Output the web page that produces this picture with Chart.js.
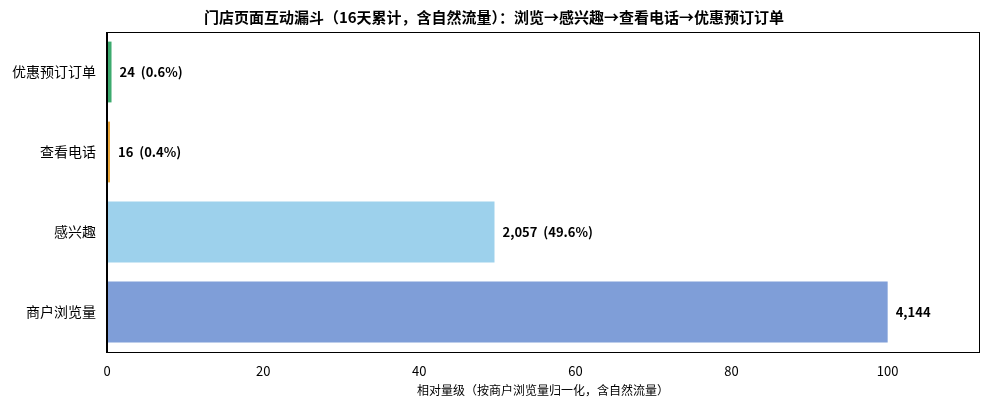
<!DOCTYPE html>
<html><head><meta charset="utf-8">
<script src="https://cdn.jsdelivr.net/npm/chart.js@4"></script>
<style>html,body{margin:0;padding:0;background:#fff}#w{width:990px;height:410px}</style>
</head><body><div id="w"><canvas id="c"></canvas></div>
<script>
const categories = ['优惠预订订单','查看电话','感兴趣','商户浏览量'];
const counts = [24, 16, 2057, 4144];
const pctLabels = ['24  (0.6%)','16  (0.4%)','2,057  (49.6%)','4,144'];
const colors = ['#3daa6e','#e8a53a','#9dd1ec','#7f9ed8'];
const base = 4144;
const values = counts.map(v => v / base * 100);
const F = "'Noto Sans CJK SC','Noto Sans',sans-serif";
const boxPlugin = {
  id:'box',
  afterDraw(ch){
    const {ctx, chartArea:a} = ch;
    ctx.save(); ctx.strokeStyle='#000'; ctx.lineWidth=1;
    ctx.strokeRect(a.left+0.5, a.top+0.5, a.right-a.left, a.bottom-a.top);
    const meta = ch.getDatasetMeta(0);
    ctx.font = "bold 13px "+F; ctx.fillStyle='#000'; ctx.textBaseline='middle';
    meta.data.forEach((b,i)=>{ ctx.fillText(pctLabels[i], b.x+8, b.y); });
    ctx.restore();
  }
};
new Chart(document.getElementById('c'), {
  type:'bar',
  data:{labels:categories, datasets:[{data:values, backgroundColor:colors, categoryPercentage:0.76, barPercentage:1}]},
  options:{
    indexAxis:'y', responsive:true, maintainAspectRatio:false, animation:false,
    layout:{padding:{left:9,right:11,top:2,bottom:8}},
    plugins:{legend:{display:false}, tooltip:{enabled:false},
      title:{display:true, text:'门店页面互动漏斗（16天累计，含自然流量）：浏览→感兴趣→查看电话→优惠预订订单',
        font:{family:F,size:15,weight:'bold'}, color:'#000', padding:{top:6,bottom:6}}},
    scales:{
      x:{min:0,max:111.7, grid:{display:false}, border:{color:'#000'},
        ticks:{stepSize:20, color:'#000', font:{family:F,size:13}, callback:v=> v%20===0 && v<=100 ? v : ''},
        title:{display:true,text:'相对量级（按商户浏览量归一化，含自然流量）',color:'#000',font:{family:F,size:12},padding:{top:2}}},
      y:{grid:{display:false}, border:{color:'#000'}, ticks:{color:'#000', font:{family:F,size:14}}}
    }
  },
  plugins:[boxPlugin]
});
</script></body></html>
